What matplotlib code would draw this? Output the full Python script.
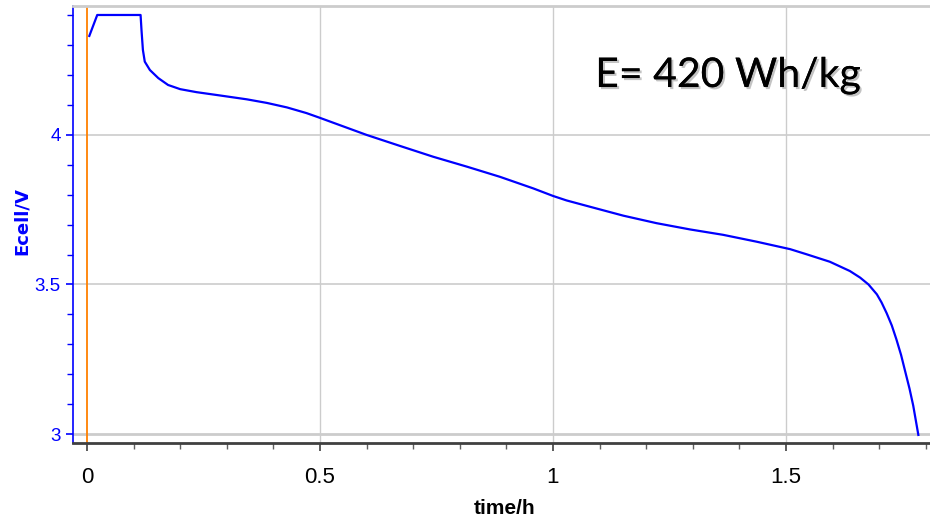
import matplotlib
matplotlib.use('Agg')
import matplotlib.pyplot as plt
import matplotlib.patheffects as pe
from matplotlib.ticker import MultipleLocator

# discharge curve
t_h = [0.005, 0.022, 0.115, 0.117, 0.120, 0.124, 0.135, 0.153, 0.174, 0.200,
       0.235, 0.285, 0.343, 0.386, 0.429, 0.471, 0.5, 0.521, 0.6, 0.672,
       0.743, 0.815, 0.886, 0.958, 1.0, 1.029, 1.079, 1.151, 1.222, 1.294,
       1.365, 1.437, 1.509, 1.544, 1.594, 1.637, 1.659, 1.677, 1.695, 1.705,
       1.716, 1.727, 1.737, 1.747, 1.755, 1.765, 1.773, 1.784]
e_cell = [4.331, 4.401, 4.401, 4.35, 4.284, 4.245, 4.217, 4.190, 4.167, 4.153,
          4.143, 4.132, 4.119, 4.107, 4.092, 4.073, 4.057, 4.045, 4.0, 3.963,
          3.927, 3.894, 3.860, 3.821, 3.796, 3.781, 3.760, 3.730, 3.705, 3.684,
          3.666, 3.643, 3.618, 3.601, 3.576, 3.545, 3.523, 3.500, 3.467, 3.440,
          3.404, 3.363, 3.316, 3.264, 3.214, 3.152, 3.095, 2.997]

xticks = [0, 0.5, 1, 1.5]
xticklabels = ['0', '0.5', '1', '1.5']
yticks = [3, 3.5, 4]
yticklabels = ['3', '3.5', '4']

sans = ['Liberation Sans', 'DejaVu Sans']
blue = '#0000ff'

fig = plt.figure(figsize=(9.3, 5.18), dpi=100)
ax = fig.add_axes([0.0785, 0.1448, 0.9215, 0.8436])

ax.set_xlim(-0.030, 1.809)
ax.set_ylim(2.97, 4.431)

# grid
for xv in xticks[1:]:
    ax.axvline(xv, color='#cccccc', lw=1, zorder=1)
for yv in yticks:
    ax.axhline(yv, color='#cccccc', lw=1.2 if yv != 3 else 2, zorder=1)

ax.axvline(0, color='#ff8000', lw=1.3, zorder=2)
ax.plot(t_h, e_cell, color=blue, lw=1.6, zorder=3, solid_joinstyle='round')

ax.spines['right'].set_visible(False)
ax.spines['top'].set_color('#cccccc')
ax.spines['top'].set_linewidth(2)
ax.spines['left'].set_color(blue)
ax.spines['left'].set_linewidth(1.2)
ax.spines['bottom'].set_color('#404040')
ax.spines['bottom'].set_linewidth(2)

ax.set_xticks(xticks)
ax.set_xticklabels(xticklabels, fontfamily=sans, fontsize=16)
ax.xaxis.set_minor_locator(MultipleLocator(0.1))
ax.tick_params(axis='x', which='major', length=6, width=1.2, color='#404040', pad=11)
ax.tick_params(axis='x', which='minor', length=4, width=1, color='#606060')

ax.set_yticks(yticks)
ax.set_yticklabels(yticklabels, fontfamily=sans, fontsize=13.5, color=blue)
ax.yaxis.set_minor_locator(MultipleLocator(0.1))
ax.tick_params(axis='y', which='major', length=5, width=1.2, color=blue, pad=4)
ax.tick_params(axis='y', which='minor', length=4, width=1, color=blue)

fig.text(0.543, 0.008, 'time/h', fontfamily=sans, fontsize=15, fontweight='bold',
         ha='center', va='baseline')
fig.text(0.0235, 0.573, 'Ecell/V', fontfamily='DejaVu Sans', fontsize=13,
         fontweight='bold', color=blue, rotation=90, ha='center', va='center')

ax.text(0.64, 0.832, 'E= 420 Wh/kg', transform=fig.transFigure, fontfamily='Lato',
        fontsize=29.5, color='black', ha='left', va='baseline',
        path_effects=[pe.withSimplePatchShadow(offset=(1.5, -1.5), shadow_rgbFace='#888888', alpha=0.5),
                      pe.Normal()])

fig.savefig('out.png', dpi=100)
